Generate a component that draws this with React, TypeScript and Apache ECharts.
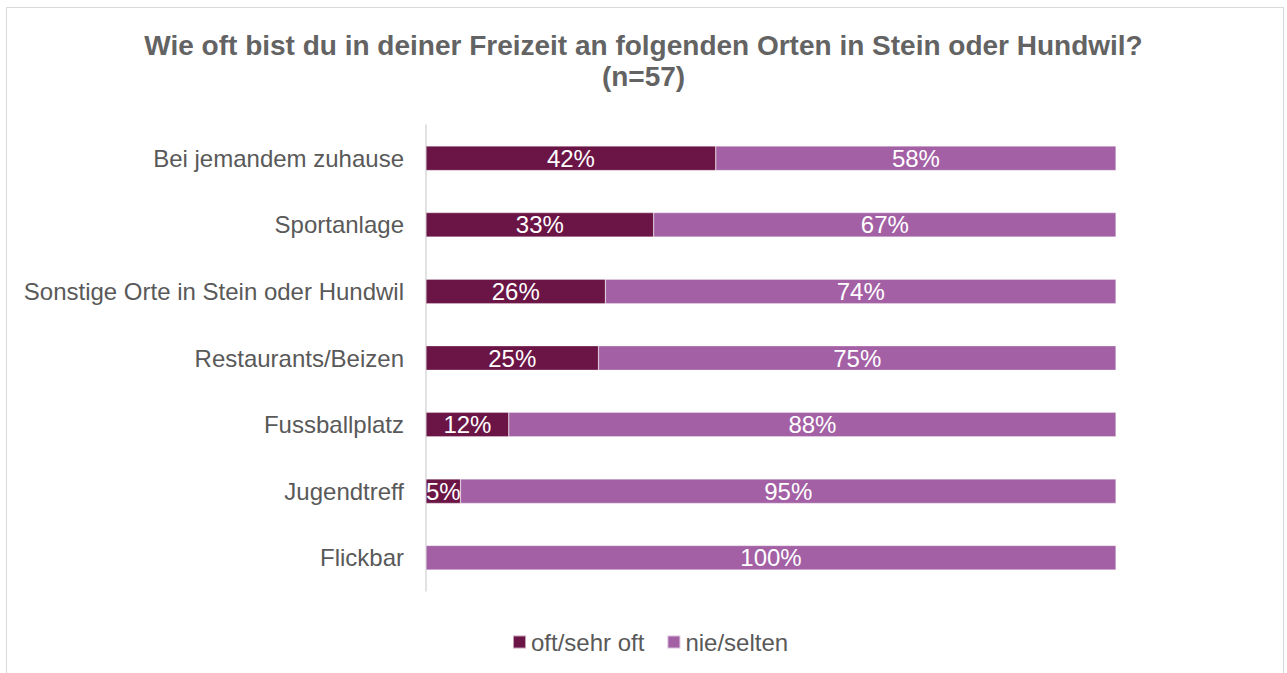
import React, { useEffect, useRef } from "react";
import * as echarts from "echarts";

const categories = [
  "Bei jemandem zuhause",
  "Sportanlage",
  "Sonstige Orte in Stein oder Hundwil",
  "Restaurants/Beizen",
  "Fussballplatz",
  "Jugendtreff",
  "Flickbar",
];
const oftValues = [42, 33, 26, 25, 12, 5, 0];
const nieValues = [58, 67, 74, 75, 88, 95, 100];
const seriesNames = ["oft/sehr oft", "nie/selten"];
const titleText = "Wie oft bist du in deiner Freizeit an folgenden Orten in Stein oder Hundwil?\n(n=57)";

const FONT = "'Liberation Sans', Arial, sans-serif";
const GREY = "#595959";

export default function App() {
  const ref = useRef<HTMLDivElement>(null);
  useEffect(() => {
    if (!ref.current) return;
    const chart = echarts.init(ref.current, undefined, { renderer: "svg" });
    const label = {
      show: true,
      position: "inside",
      color: "#ffffff",
      fontSize: 24,
      fontFamily: FONT,
      formatter: (p: any) => (p.value > 0 ? p.value + "%" : ""),
    };
    chart.setOption({
      animation: false,
      backgroundColor: "#ffffff",
      textStyle: { fontFamily: FONT },
      title: {
        text: titleText,
        left: "center",
        top: 30,
        padding: 0,
        textStyle: {
          fontSize: 28,
          fontWeight: "bold",
          color: "#636363",
          lineHeight: 31,
          fontFamily: FONT,
        },
      },
      graphic: [
        {
          type: "rect",
          shape: { x: 6.5, y: 7.5, width: 1277, height: 700 },
          style: { fill: "none", stroke: "#d9d9d9", lineWidth: 1 },
          silent: true,
        },
      ],
      legend: {
        data: seriesNames,
        left: 512,
        top: 630,
        itemWidth: 13,
        itemHeight: 13,
        itemGap: 22,
        padding: 0,
        icon: "rect",
        textStyle: { fontSize: 24, color: GREY, fontFamily: FONT },
      },
      grid: { left: 426, right: 171, top: 125, height: 466, containLabel: false },
      xAxis: {
        type: "value",
        min: 0,
        max: 100,
        show: false,
      },
      yAxis: {
        type: "category",
        data: categories,
        inverse: true,
        axisLine: { show: true, lineStyle: { color: "#d9d9d9", width: 1.5 } },
        axisTick: { show: false },
        axisLabel: { fontSize: 24, color: GREY, margin: 22, fontFamily: FONT },
        splitLine: { show: false },
      },
      series: [
        {
          name: seriesNames[0],
          type: "bar",
          stack: "total",
          data: oftValues,
          barWidth: 24.5,
          itemStyle: { color: "#6B1446", borderColor: "rgba(255,255,255,0.6)", borderWidth: 0.5 },
          label,
        },
        {
          name: seriesNames[1],
          type: "bar",
          stack: "total",
          data: nieValues,
          barWidth: 24.5,
          itemStyle: { color: "#A360A5", borderColor: "rgba(255,255,255,0.6)", borderWidth: 0.5 },
          label,
        },
      ],
    });
    return () => chart.dispose();
  }, []);
  return (
    <div
      ref={ref}
      style={{ position: "absolute", left: 0, top: 0, width: 1287, height: 673 }}
    />
  );
}
